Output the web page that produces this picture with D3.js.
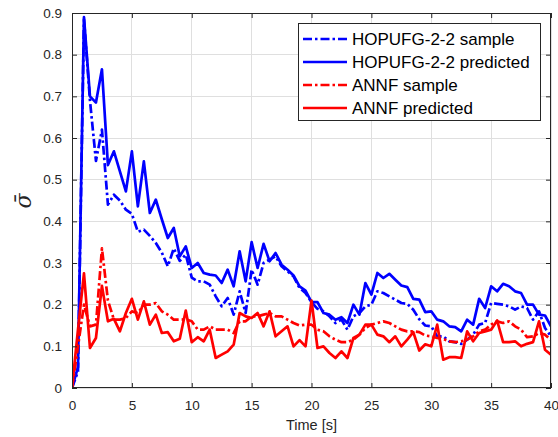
<!DOCTYPE html>
<html><head><meta charset="utf-8">
<script src="https://cdn.jsdelivr.net/npm/d3@7"></script>
<style>body{margin:0;background:#fff}svg{display:block}text{font-family:"Liberation Sans",Arial,Helvetica,sans-serif}</style>
</head><body>
<svg id="c" width="558" height="437"></svg>
<script>
const timeStep = 0.5;
const hopufgSample = [0,0.04,0.885,0.69,0.545,0.62,0.44,0.464,0.45,0.428,0.418,0.375,0.38,0.365,0.348,0.325,0.292,0.335,0.305,0.32,0.265,0.256,0.256,0.248,0.22,0.196,0.216,0.176,0.232,0.18,0.284,0.248,0.30,0.308,0.316,0.292,0.28,0.268,0.24,0.228,0.206,0.19,0.184,0.172,0.156,0.164,0.14,0.172,0.18,0.196,0.2,0.232,0.228,0.22,0.212,0.204,0.202,0.188,0.165,0.15,0.148,0.124,0.124,0.112,0.11,0.106,0.116,0.128,0.152,0.156,0.204,0.202,0.2,0.196,0.188,0.196,0.192,0.164,0.184,0.144,0.124];
const hopufgPred = [0,0.05,0.89,0.70,0.685,0.765,0.535,0.568,0.52,0.472,0.568,0.436,0.544,0.42,0.452,0.405,0.36,0.384,0.316,0.34,0.288,0.30,0.276,0.272,0.27,0.252,0.284,0.244,0.328,0.256,0.35,0.288,0.346,0.304,0.324,0.296,0.284,0.27,0.244,0.234,0.206,0.206,0.18,0.176,0.164,0.17,0.156,0.2,0.176,0.252,0.224,0.276,0.264,0.274,0.26,0.246,0.242,0.214,0.212,0.182,0.184,0.164,0.16,0.148,0.146,0.136,0.164,0.152,0.214,0.192,0.244,0.232,0.25,0.244,0.232,0.228,0.2,0.2,0.176,0.174,0.148];
const annfSample = [0,0.1,0.2,0.148,0.152,0.335,0.21,0.164,0.164,0.168,0.184,0.18,0.2,0.2,0.204,0.184,0.176,0.164,0.164,0.165,0.16,0.14,0.14,0.148,0.14,0.14,0.14,0.132,0.16,0.16,0.172,0.172,0.176,0.18,0.172,0.172,0.164,0.156,0.15,0.152,0.152,0.14,0.136,0.124,0.116,0.11,0.11,0.116,0.128,0.144,0.152,0.156,0.16,0.156,0.148,0.14,0.136,0.136,0.134,0.126,0.124,0.12,0.118,0.112,0.11,0.112,0.116,0.124,0.136,0.14,0.152,0.16,0.156,0.16,0.148,0.14,0.122,0.124,0.132,0.128,0.115];
const annfPred = [0,0.14,0.275,0.096,0.12,0.245,0.16,0.166,0.136,0.18,0.214,0.164,0.208,0.152,0.176,0.132,0.134,0.112,0.118,0.186,0.11,0.122,0.112,0.14,0.072,0.08,0.088,0.104,0.18,0.172,0.168,0.18,0.148,0.184,0.124,0.136,0.148,0.1,0.115,0.1,0.21,0.096,0.1,0.084,0.072,0.088,0.072,0.12,0.128,0.152,0.152,0.128,0.124,0.11,0.124,0.1,0.116,0.134,0.09,0.105,0.1,0.152,0.068,0.074,0.074,0.072,0.136,0.112,0.132,0.136,0.14,0.162,0.11,0.11,0.112,0.1,0.106,0.11,0.16,0.092,0.08];
const xTicks = [0,5,10,15,20,25,30,35,40];
const yTicks = [0,0.1,0.2,0.3,0.4,0.5,0.6,0.7,0.8,0.9];
const seriesNames = ["HOPUFG-2-2 sample","HOPUFG-2-2 predicted","ANNF sample","ANNF predicted"];

const series = [
  {name:seriesNames[0], values:hopufgSample, color:"#0000ff", dash:"9,3,2.5,3"},
  {name:seriesNames[1], values:hopufgPred, color:"#0000ff", dash:null},
  {name:seriesNames[2], values:annfSample, color:"#ff0000", dash:"9,3,2.5,3"},
  {name:seriesNames[3], values:annfPred, color:"#ff0000", dash:null}
];

const L=72, R=551, T=13, B=388;
const svg = d3.select("#c");
const x = d3.scaleLinear().domain([0,40]).range([L,R]);
const y = d3.scaleLinear().domain([0,0.9]).range([B,T]);
const ink="#262626";

// grid
svg.append("g").selectAll("line").data(xTicks).join("line")
  .attr("x1",d=>x(d)).attr("x2",d=>x(d)).attr("y1",T).attr("y2",B)
  .attr("stroke","#dfdfdf").attr("stroke-width",1).attr("shape-rendering","crispEdges");
svg.append("g").selectAll("line").data(yTicks).join("line")
  .attr("y1",d=>y(d)).attr("y2",d=>y(d)).attr("x1",L).attr("x2",R)
  .attr("stroke","#dfdfdf").attr("stroke-width",1).attr("shape-rendering","crispEdges");

// lines
svg.append("defs").append("clipPath").attr("id","clip").append("rect")
  .attr("x",L).attr("y",T-2).attr("width",R-L).attr("height",B-T+2);
const line = d3.line().x((d,i)=>x(i*timeStep)).y(d=>y(d));
const lg = svg.append("g").attr("clip-path","url(#clip)");
series.forEach(s=>{
  lg.append("path").datum(s.values).attr("d",line)
    .attr("fill","none").attr("stroke",s.color).attr("stroke-width",2.7)
    .attr("stroke-linejoin","round")
    .attr("stroke-dasharray",s.dash);
});

// axes
const tickLen=5;
const ax = svg.append("g").attr("transform",`translate(0,${B})`)
  .call(d3.axisBottom(x).tickValues(xTicks).tickSize(-tickLen).tickPadding(12).tickFormat(d3.format("d")));
const axT = svg.append("g").attr("transform",`translate(0,${T})`)
  .call(d3.axisTop(x).tickValues(xTicks).tickSize(-tickLen).tickFormat(""));
const ay = svg.append("g").attr("transform",`translate(${L},0)`)
  .call(d3.axisLeft(y).tickValues(yTicks).tickSize(-tickLen).tickPadding(10).tickFormat(d=>d===0?"0":d3.format(".1f")(d)));
const ayR = svg.append("g").attr("transform",`translate(${R},0)`)
  .call(d3.axisRight(y).tickValues(yTicks).tickSize(-tickLen).tickFormat(""));
[ax,axT,ay,ayR].forEach(g=>{
  g.selectAll(".tick line").attr("stroke",ink);
  g.selectAll(".tick text").attr("fill",ink).style("font-size","13.5px");
  g.select("path.domain").remove();
});
svg.append("rect").attr("x",L+0.5).attr("y",T+0.5).attr("width",R-L-1).attr("height",B-T-1)
  .attr("fill","none").attr("stroke",ink).attr("stroke-width",1);

// labels
svg.append("text").attr("x",(L+R)/2).attr("y",430).attr("text-anchor","middle")
  .attr("fill",ink).style("font-size","14.5px").text("Time [s]");
svg.append("text").attr("transform","translate(31,201) rotate(-90)").attr("text-anchor","middle")
  .attr("fill",ink).style("font-size","22px").style("font-family","'DejaVu Serif',serif").style("font-style","italic")
  .text("σ\u0304");

// legend
const lgX=298, lgY=23, lgW=242, lgH=97;
svg.append("rect").attr("x",lgX+0.5).attr("y",lgY+0.5).attr("width",lgW).attr("height",lgH)
  .attr("fill","#fff").attr("stroke",ink).attr("stroke-width",1);
const rowY=[39,62,85,108];
series.forEach((s,i)=>{
  svg.append("line").attr("x1",303).attr("x2",347).attr("y1",rowY[i]).attr("y2",rowY[i])
    .attr("stroke",s.color).attr("stroke-width",2.7).attr("stroke-dasharray",s.dash);
  svg.append("text").attr("x",352).attr("y",rowY[i]).attr("dy","0.36em")
    .attr("fill","#000").style("font-size","17px").text(s.name);
});
</script>
</body></html>
